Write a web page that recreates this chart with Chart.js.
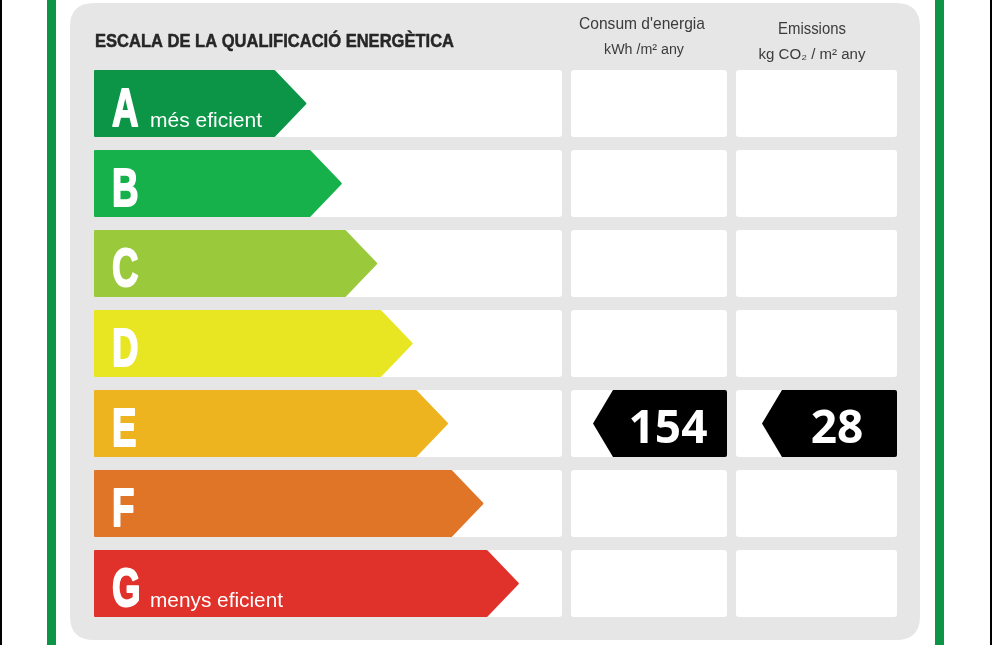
<!DOCTYPE html>
<html>
<head>
<meta charset="utf-8">
<script src="https://cdn.jsdelivr.net/npm/chart.js@4/dist/chart.umd.min.js"></script>
<style>
html,body{margin:0;padding:0;background:#fff;}
#wrap{width:992px;height:645px;position:relative;}
</style>
</head>
<body>
<div id="wrap"><canvas id="c" width="992" height="645"></canvas></div>
<script>
// ---- data ----
const ratings = ['A','B','C','D','E','F','G'];
const arrowLengths = [6, 7, 8, 9, 10, 11, 12];
const ratingColors = ['#0c9547','#16b14b','#9bc93c','#e8e622','#edb420','#e07528','#e1312b'];
const subLabels = ['més eficient','','','','','','menys eficient'];
const titleText = 'ESCALA DE LA QUALIFICACIÓ ENERGÈTICA';
const consumHeader = ["Consum d'energia", 'kWh /m² any'];
const emisHeader = ['Emissions', 'kg CO₂ / m² any'];
const currentRating = 'E';
const consumValue = 154;
const emisValue = 28;

const SANS = '"Liberation Sans", Arial, sans-serif';

function rr(ctx, x, y, w, h, r){
  ctx.beginPath();
  ctx.moveTo(x+r, y);
  ctx.lineTo(x+w-r, y); ctx.quadraticCurveTo(x+w, y, x+w, y+r);
  ctx.lineTo(x+w, y+h-r); ctx.quadraticCurveTo(x+w, y+h, x+w-r, y+h);
  ctx.lineTo(x+r, y+h); ctx.quadraticCurveTo(x, y+h, x, y+h-r);
  ctx.lineTo(x, y+r); ctx.quadraticCurveTo(x, y, x+r, y);
  ctx.closePath();
}
// draw text horizontally condensed to a given width
function fitText(ctx, text, x, y, width, align, strokeW){
  const w = ctx.measureText(text).width;
  const s = width / w;
  ctx.save();
  ctx.textAlign = 'left';
  let left = x;
  if (align === 'center') left = x - width/2;
  ctx.translate(left, y);
  ctx.scale(s, 1);
  if (strokeW) {
    ctx.strokeStyle = ctx.fillStyle;
    ctx.lineWidth = strokeW;
    ctx.lineJoin = 'round';
    ctx.strokeText(text, 0, 0);
  }
  ctx.fillText(text, 0, 0);
  ctx.restore();
}
function condText(ctx, text, x, y, sx, strokeW){
  ctx.save();
  ctx.textAlign = 'left';
  ctx.translate(x, y);
  ctx.scale(sx, 1);
  if (strokeW) {
    ctx.strokeStyle = ctx.fillStyle;
    ctx.lineWidth = strokeW;
    ctx.lineJoin = 'round';
    ctx.strokeText(text, 0, 0);
  }
  ctx.fillText(text, 0, 0);
  ctx.restore();
}

const labelPlugin = {
  id: 'labelPlugin',
  beforeDraw(chart){
    const ctx = chart.ctx;
    const area = chart.chartArea;
    ctx.save();
    ctx.fillStyle = '#ffffff';
    ctx.fillRect(0,0,chart.width,chart.height);
    // frame lines
    ctx.fillStyle = '#0c9447';
    ctx.fillRect(47, 0, 9, 645);
    ctx.fillRect(935, 0, 9, 645);
    ctx.fillStyle = '#000';
    ctx.fillRect(990, 0, 2, 645);
    ctx.fillRect(0, 0, 2, 645);
    // panel
    ctx.fillStyle = '#e6e6e6';
    rr(ctx, 70, 3, 850, 637, 24);
    ctx.fill();
    // row cells
    const meta = chart.getDatasetMeta(0);
    meta.data.forEach((bar) => {
      const h = bar.height;
      const top = bar.y - h/2;
      ctx.fillStyle = '#ffffff';
      rr(ctx, area.left, top, area.right - area.left, h, 3); ctx.fill();
      rr(ctx, 571, top, 156, h, 3); ctx.fill();
      rr(ctx, 736, top, 161, h, 3); ctx.fill();
    });
    // title
    ctx.fillStyle = '#262626';
    ctx.textBaseline = 'alphabetic';
    ctx.font = 'bold 19px ' + SANS;
    fitText(ctx, titleText, 95, 47, 359, 'left', 0.5);
    // headers
    ctx.fillStyle = '#3c3c3c';
    ctx.font = '17px ' + SANS;
    fitText(ctx, consumHeader[0], 642, 29, 126, 'center');
    fitText(ctx, emisHeader[0], 812, 34, 68, 'center');
    ctx.font = '14px ' + SANS;
    fitText(ctx, consumHeader[1], 644, 54, 80, 'center');
    fitText(ctx, emisHeader[1], 812, 59, 107, 'center');
    ctx.restore();
  },
  afterDatasetsDraw(chart){
    const ctx = chart.ctx;
    const meta = chart.getDatasetMeta(0);
    ctx.save();
    meta.data.forEach((bar, i) => {
      const h = bar.height;
      const top = bar.y - h/2, bot = bar.y + h/2;
      const tip = h*0.48;
      ctx.fillStyle = ratingColors[i];
      ctx.strokeStyle = ratingColors[i];
      ctx.lineWidth = 2;
      ctx.lineJoin = 'round';
      ctx.beginPath();
      ctx.moveTo(bar.base+1, top+1);
      ctx.lineTo(bar.x - tip, top+1);
      ctx.lineTo(bar.x-1, bar.y);
      ctx.lineTo(bar.x - tip, bot-1);
      ctx.lineTo(bar.base+1, bot-1);
      ctx.closePath();
      ctx.fill(); ctx.stroke();
      // letter
      ctx.fillStyle = '#ffffff';
      ctx.textBaseline = 'alphabetic';
      ctx.font = 'bold 54px ' + SANS;
      condText(ctx, ratings[i], bar.base + 18, top + 56, 0.68, 2);
      if (subLabels[i]) {
        ctx.font = '21px ' + SANS;
        const tw = i === 0 ? 112 : 133;
        fitText(ctx, subLabels[i], bar.base + 56, top + 57, tw, 'left');
      }
    });
    // value markers
    const idx = ratings.indexOf(currentRating);
    const b = meta.data[idx];
    const h = b.height, top = b.y - h/2, bot = b.y + h/2;
    function marker(tipX, bodyX, right, text, cx){
      ctx.fillStyle = '#000';
      ctx.beginPath();
      ctx.moveTo(tipX, b.y);
      ctx.lineTo(bodyX, top);
      ctx.lineTo(right-2, top);
      ctx.quadraticCurveTo(right, top, right, top+2);
      ctx.lineTo(right, bot-2);
      ctx.quadraticCurveTo(right, bot, right-2, bot);
      ctx.lineTo(bodyX, bot);
      ctx.closePath();
      ctx.fill();
      ctx.fillStyle = '#fff';
      ctx.font = 'bold 46px "Open Sans", sans-serif';
      ctx.textAlign = 'center';
      ctx.textBaseline = 'alphabetic';
      ctx.fillText(text, cx, b.y + 19);
    }
    marker(593, 613, 727, String(consumValue), 668);
    marker(762, 782, 897, String(emisValue), 837);
    ctx.restore();
  }
};

new Chart(document.getElementById('c'), {
  type: 'bar',
  data: {
    labels: ratings,
    datasets: [{
      data: arrowLengths,
      backgroundColor: 'rgba(0,0,0,0)',
      borderWidth: 0,
      barPercentage: 0.8375,
      categoryPercentage: 1
    }]
  },
  options: {
    indexAxis: 'y',
    responsive: false,
    animation: false,
    devicePixelRatio: 1,
    layout: { padding: { left: 94, right: 430, top: 63.5, bottom: 21.5 } },
    scales: {
      x: { display: false, min: 0, max: 13.22 },
      y: { display: false }
    },
    plugins: { legend: { display: false }, tooltip: { enabled: false } }
  },
  plugins: [labelPlugin]
});
</script>
</body>
</html>
